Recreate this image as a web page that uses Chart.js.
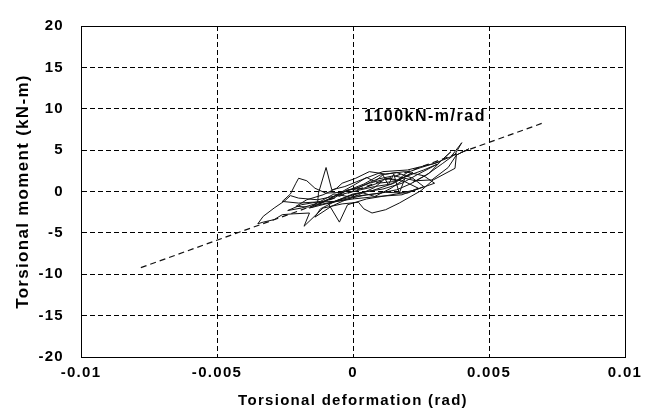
<!DOCTYPE html>
<html>
<head>
<meta charset="utf-8">
<script src="https://cdn.jsdelivr.net/npm/chart.js@4.4.1/dist/chart.umd.min.js"></script>
<style>
    html, body { margin: 0; padding: 0; background: #fff; }
    canvas { display: block; }
</style>
</head>
<body>
<canvas id="torsionChart" width="660" height="410"></canvas>
<script>
// measured hysteresis loop (torsional deformation in rad, moment in kN-m)
const loopX = [
    0.0000, 0.0006, 0.0013, 0.0019, 0.0024, 0.0018, 0.0009, 0.0000, -0.0008, -0.0014,
    -0.0009, -0.0003, 0.0004, 0.0010, 0.0016, 0.0022, 0.0026, 0.0020, 0.0012, 0.0005,
    -0.0002, -0.0010, -0.0016, -0.0013, -0.00127, -0.00099, -0.00078, -0.0003, 0.0003, 0.0011,
    0.0020, 0.0030, 0.0036, 0.0040, 0.00375, 0.0033, 0.0027, 0.0021, 0.0016, 0.0008,
    0.0000, -0.0007, -0.0015, -0.0020, -0.0026, -0.0023, -0.0021, -0.0020, -0.0017, -0.0014,
    -0.0010, -0.0004, 0.0002, 0.0009, 0.0015, 0.0023, 0.0029, 0.0035, 0.0038, 0.00426,
    0.0038, 0.00375, 0.00295, 0.0025, 0.0017, 0.0012, 0.0007, 0.0004, 0.0002, -0.0004,
    -0.0011, -0.0018, -0.0016, -0.0022, -0.0026, -0.0029, -0.0033, -0.0035, -0.0033, -0.0029,
    -0.0025, -0.0023, -0.0020, -0.0013, -0.0006, 0.0000, 0.0008, 0.0014, 0.0019, 0.0022,
    0.0015, 0.0007, 0.0000, -0.0009, -0.0005, -0.0002, 0.0005, 0.0016, 0.0023, 0.0030,
    0.0026, 0.0019, 0.0012, 0.0006, 0.0001, -0.0004, -0.0006, -0.0011, -0.0017, -0.0021,
    -0.0015, -0.0009, -0.0005, 0.0001, 0.0005, 0.0008, 0.0011, 0.0013, 0.0015, 0.0017,
    0.0019, 0.0014, 0.0008, 0.0003, -0.0002, -0.0007, -0.0012, -0.0019, -0.0024, -0.0019,
    -0.0013, -0.0007, -0.0002, 0.0004, 0.0009, 0.0015, 0.0021, 0.0026, 0.0031, 0.0024,
    0.0018, 0.0011, 0.0005, -0.0001, -0.0006, -0.0012, -0.0014, -0.0008, -0.0004, 0.0002,
    0.0008, 0.0012, 0.0016, 0.0020, 0.0025, 0.0032, 0.0036, 0.0033, 0.0028, 0.0022
];
const loopY = [
    0.2, 1.0, 1.6, 1.2, 0.4, -0.4, -0.6, -0.9, -1.3, -1.7,
    -0.9, 0.0, 0.9, 2.0, 2.3, 1.6, 0.6, -0.2, -0.1, -0.4,
    -0.9, -1.5, -2.0, -1.3, -0.2, 2.9, 0.2, 0.6, 1.4, 2.4,
    2.6, 3.4, 4.2, 5.9, 4.5, 3.4, 2.0, 0.9, 0.2, -0.3,
    -0.6, -1.2, -1.3, -1.4, -1.2, -0.3, 1.0, 1.6, 1.3, 0.4,
    -0.2, -0.1, 0.5, 1.5, 1.9, 1.3, 1.4, 2.9, 4.4, 5.16,
    4.4, 2.8, 1.4, 0.1, -1.4, -2.2, -2.6, -2.1, -1.3, -1.5,
    -2.0, -4.2, -2.6, -2.7, -2.8, -3.4, -3.7, -3.9, -3.0, -2.0,
    -1.1, -0.5, -0.8, -1.0, -0.5, 0.0, 0.6, 0.9, 1.8, 2.3,
    1.0, 0.1, -0.3, -1.5, -3.7, -1.6, -0.9, -0.3, 0.2, 1.0,
    1.9, 2.4, 2.1, 2.4, 1.6, 1.0, 0.4, -0.4, -1.0, -1.8,
    -1.9, -1.0, -0.2, 0.9, 1.7, 1.2, 2.0, 0.8, 2.1, -0.2,
    1.5, 0.4, -0.6, -0.1, -0.6, -0.3, -1.2, -1.6, -2.3, -2.0,
    -1.4, -0.8, 0.2, 0.4, 1.0, 1.2, 2.0, 2.6, 3.3, 2.1,
    1.0, 0.3, 0.0, -0.5, -1.1, -2.1, -3.1, -1.8, -1.2, -0.4,
    0.5, 1.6, 1.3, 2.3, 2.9, 3.6, 4.8, 3.9, 2.2, 1.1
];

// stiffness line 1100 kN-m/rad
const fitX = [-0.0078, 0.0070];
const fitY = [-9.2, 8.3];
const fitLabel = "1100kN-m/rad";
const fitLabelAt = [0.0004, 9.0];

const xTicks = [-0.01, -0.005, 0, 0.005, 0.01];
const yTicks = [-20, -15, -10, -5, 0, 5, 10, 15, 20];

const toPoints = (xs, ys) => xs.map((x, i) => ({ x: x, y: ys[i] }));

const fontFamily = "'Liberation Sans', Arial, sans-serif";
const tickFont = { family: fontFamily, size: 15, weight: "bold" };

// wider letter spacing like the scanned figure
const spacingPlugin = {
    id: "spacing",
    beforeLayout(chart) { chart.ctx.letterSpacing = "1.3px"; },
    beforeDraw(chart) { chart.ctx.letterSpacing = "1.3px"; },
};

// frame round the plot + line label
const framePlugin = {
    id: "frame",
    afterDraw(chart) {
        const { ctx, chartArea, scales } = chart;
        ctx.save();
        ctx.strokeStyle = "#000";
        ctx.lineWidth = 1;
        ctx.setLineDash([]);
        ctx.strokeRect(chartArea.left + 0.5, chartArea.top + 0.5,
            chartArea.right - chartArea.left, chartArea.bottom - chartArea.top);
        ctx.fillStyle = "#000";
        ctx.letterSpacing = "1.5px";
        ctx.font = "bold 16px " + fontFamily;
        ctx.textBaseline = "middle";
        ctx.textAlign = "left";
        ctx.fillText(fitLabel, scales.x.getPixelForValue(fitLabelAt[0]),
            scales.y.getPixelForValue(fitLabelAt[1]));
        ctx.restore();
    },
};

new Chart(document.getElementById("torsionChart"), {
    type: "scatter",
    data: {
        datasets: [
            {
                data: toPoints(loopX, loopY),
                showLine: true,
                borderColor: "#111",
                borderWidth: 1,
                pointRadius: 0,
                tension: 0,
            },
            {
                data: toPoints(fitX, fitY),
                showLine: true,
                borderColor: "#111",
                borderWidth: 1.2,
                borderDash: [6, 4],
                pointRadius: 0,
            },
        ],
    },
    options: {
        responsive: false,
        devicePixelRatio: 1,
        animation: false,
        layout: { padding: { top: 20, right: 35, left: 0, bottom: 0 } },
        plugins: {
            legend: { display: false },
            tooltip: { enabled: false },
        },
        scales: {
            x: {
                type: "linear",
                min: -0.01,
                max: 0.01,
                afterBuildTicks: (s) => { s.ticks = xTicks.map((v) => ({ value: v })); },
                afterFit: (s) => { s.height = 53; },
                grid: { color: "#000", lineWidth: 1, drawTicks: false },
                border: { color: "#000", width: 1, dash: [5, 3] },
                ticks: {
                    color: "#000",
                    font: tickFont,
                    padding: 7,
                    maxRotation: 0,
                    callback: (v) => String(v),
                },
                title: {
                    display: true,
                    text: "Torsional deformation (rad)",
                    color: "#000",
                    font: { family: fontFamily, size: 15, weight: "bold" },
                    padding: { top: 0, bottom: 0 },
                },
            },
            y: {
                min: -20,
                max: 20,
                afterBuildTicks: (s) => { s.ticks = yTicks.map((v) => ({ value: v })); },
                afterFit: (s) => { s.width = 81; },
                grid: { color: "#000", lineWidth: 1, drawTicks: false },
                border: { color: "#000", width: 1, dash: [5, 3] },
                ticks: {
                    color: "#000",
                    font: tickFont,
                    padding: 17,
                },
                title: {
                    display: true,
                    text: "Torsional moment (kN-m)",
                    color: "#000",
                    font: { family: fontFamily, size: 17, weight: "bold" },
                    padding: { top: 13, bottom: 0 },
                },
            },
        },
    },
    plugins: [spacingPlugin, framePlugin],
});
</script>
</body>
</html>
